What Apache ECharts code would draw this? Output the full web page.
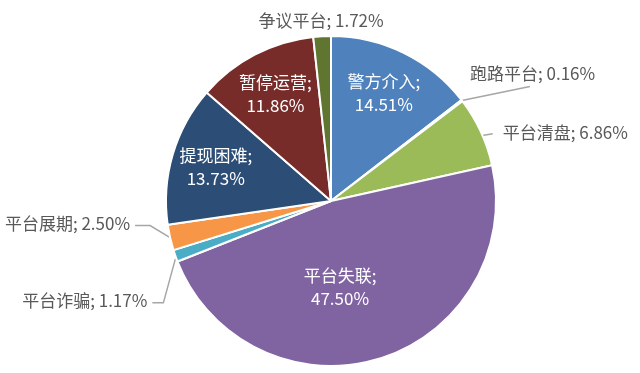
<!DOCTYPE html>
<html><head><meta charset="utf-8">
<script src="https://cdn.jsdelivr.net/npm/echarts@6/dist/echarts.min.js"></script>
<style>html,body{margin:0;padding:0;background:#fff}#c{width:640px;height:373px}</style>
</head><body><div id="c"></div>
<script>
const categories = ['警方介入','跑路平台','平台清盘','平台失联','平台诈骗','平台展期','提现困难','暂停运营','争议平台'];
const values = [14.51, 0.16, 6.86, 47.50, 1.17, 2.50, 13.73, 11.86, 1.72];
const sliceColors = ['#4F81BD','#C0504D','#9BBB59','#8064A2','#4BACC6','#F79646','#2C4D75','#772C2A','#5F7530'];
const outerRingLabels = ['警方介入','提现困难','暂停运营'];
const centerLabels = ['平台失联'];
const outsideLabels = ['跑路平台','平台清盘','平台诈骗','平台展期','争议平台'];

const FONT = '"Noto Sans CJK SC", "Noto Sans", sans-serif';
const R = 165, CENTER = [331, 201];
const pct = v => Number(v).toFixed(2) + '%';

const insideLabel = {
  show: true, position: 'inside', color: '#ffffff', fontFamily: FONT, fontSize: 17, lineHeight: 23,
  formatter: p => p.name + ';\n' + pct(p.value)
};
const outsideLabel = {
  show: true, position: 'outside', color: '#595959', fontFamily: FONT, fontSize: 17,
  formatter: p => p.name + '; ' + pct(p.value)
};
const lineStyle = { color: '#a6a6a6', width: 1.5 };

const mainData = categories.map((name, i) => {
  const d = { name, value: values[i], itemStyle: { color: sliceColors[i] } };
  if (centerLabels.includes(name)) { d.label = insideLabel; d.labelLine = { show: false }; }
  else if (outsideLabels.includes(name)) {
    d.label = outsideLabel;
    d.labelLine = { show: true, length: 10, length2: 10,
      lineStyle: name === '争议平台' ? { opacity: 0 } : lineStyle };
  } else { d.label = { show: false }; d.labelLine = { show: false }; }
  return d;
});
const ringData = categories.map((name, i) => ({
  name, value: values[i],
  label: outerRingLabels.includes(name) ? insideLabel : { show: false },
  labelLine: { show: false }
}));

// label placement tweaks, relative to the edge point the library computes
function placeLabel(p) {
  const name = categories[p.dataIndex];
  const r = p.labelRect;
  const pts = p.labelLinePoints;
  if (name === '平台失联') {
    return { x: r.x + r.width / 2 - 16, y: r.y + r.height / 2 + 4, align: 'center', verticalAlign: 'middle' };
  }
  if (!pts) return {};
  const [ex, ey] = pts[0];
  switch (name) {
    case '争议平台':
      return { x: ex - 1, y: ey - 16, align: 'center', verticalAlign: 'middle',
               labelLinePoints: [[ex, ey], [ex, ey], [ex, ey]] };
    case '跑路平台':
      return { x: ex + 8, y: ey - 27, align: 'left', verticalAlign: 'middle',
               labelLinePoints: [[ex, ey], [ex + 34, ey - 7], [ex + 68, ey - 14]] };
    case '平台清盘':
      return { x: ex + 22, y: ey + 1, align: 'left', verticalAlign: 'middle',
               labelLinePoints: [[ex, ey + 4], [ex + 6, ey + 3], [ex + 12, ey + 2]] };
    case '平台展期':
      return { x: ex - 40, y: ey - 14, align: 'right', verticalAlign: 'middle',
               labelLinePoints: [[ex, ey], [ex - 20, ey - 12], [ex - 35, ey - 12]] };
    case '平台诈骗':
      return { x: ex - 28, y: ey + 45, align: 'right', verticalAlign: 'middle',
               labelLinePoints: [[ex, ey + 3], [ex - 12, ey + 47], [ex - 23, ey + 47]] };
  }
  return {};
}

const chart = echarts.init(document.getElementById('c'));
chart.setOption({
  animation: false,
  backgroundColor: '#ffffff',
  series: [
    {
      type: 'pie', center: CENTER, radius: R, startAngle: 90, clockwise: true,
      avoidLabelOverlap: false,
      itemStyle: { borderColor: '#ffffff', borderWidth: 2 },
      labelLayout: placeLabel,
      data: mainData
    },
    {
      type: 'pie', center: CENTER, radius: [R * 0.42, R], startAngle: 90, clockwise: true,
      avoidLabelOverlap: false, silent: true,
      itemStyle: { color: 'rgba(0,0,0,0)', borderWidth: 0 },
      emphasis: { disabled: true },
      data: ringData
    }
  ]
});
</script></body></html>
